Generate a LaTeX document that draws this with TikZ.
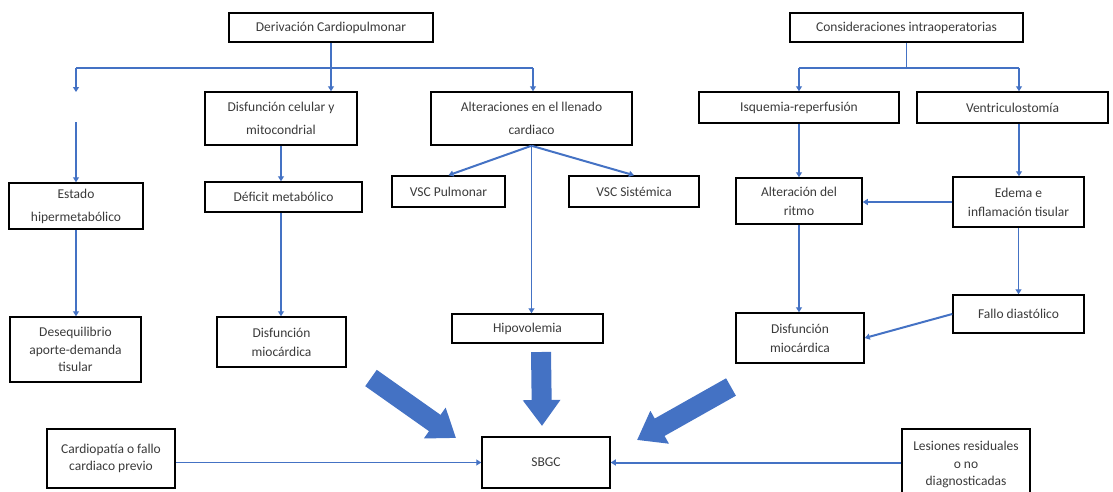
\documentclass[tikz,border=0pt]{standalone}
\usepackage{fontspec}
\setmainfont{Carlito}
\usetikzlibrary{arrows.meta,calc}
\definecolor{lineblue}{HTML}{4472C4}
\definecolor{arrowblue}{HTML}{4472C4}
\definecolor{txt}{HTML}{3A3A3A}
\begin{document}
\begin{tikzpicture}[x=1pt,y=-1pt,
  box/.style={draw=black, line width=1.5pt, inner sep=0pt, align=center, text=txt,
    font=\fontsize{13.5}{19}\selectfont},
  tallbox/.style={box, font=\fontsize{13.5}{23}\selectfont},
  tightbox/.style={box, font=\fontsize{13.5}{17.5}\selectfont},
  conn/.style={draw=lineblue, line width=1.2pt, -{Triangle[width=6pt,length=5pt]}},
  thickconn/.style={conn, line width=2pt},
  plain/.style={draw=lineblue, line width=1.2pt},
  thickplain/.style={plain, line width=2pt},
  bigarrow/.style={draw=arrowblue, line width=20pt, -{Triangle[width=36pt,length=26pt]}}
]
\useasboundingbox (0,0) rectangle (1113,491);

% top row
\node[box, minimum width=204pt, minimum height=29pt] (der) at (331,27.5) {Derivación Cardiopulmonar};
\node[box, minimum width=233pt, minimum height=29pt] (con) at (906.5,27.5) {Consideraciones intraoperatorias};

% second row
\node[tallbox, minimum width=152pt, minimum height=53pt] (dcm) at (281,118.5) {Disfunción celular y\\mitocondrial};
\node[tallbox, minimum width=201pt, minimum height=53pt] (alt) at (531.5,118.5) {Alteraciones en el llenado\\cardiaco};
\node[box, minimum width=200pt, minimum height=31pt] (isq) at (799,107.5) {Isquemia-reperfusión};
\node[box, minimum width=191pt, minimum height=31pt] (ven) at (1012.5,107.5) {Ventriculostomía};

% third row
\node[tallbox, minimum width=134pt, minimum height=46pt] (est) at (76,206) {Estado\\hipermetabólico};
\node[box, minimum width=157pt, minimum height=30pt] (def) at (283.5,197) {Déficit metabólico};
\node[box, minimum width=113pt, minimum height=31pt] (vscp) at (448.5,191.5) {VSC Pulmonar};
\node[box, minimum width=130pt, minimum height=31pt] (vscs) at (634,191.5) {VSC Sistémica};
\node[box, minimum width=126pt, minimum height=46pt] (rit) at (799,201) {Alteración del\\ritmo};
\node[box, minimum width=131pt, minimum height=50pt] (ede) at (1018.5,202) {Edema e\\inflamación tisular};

% fourth row
\node[tightbox, minimum width=131pt, minimum height=65pt] (des) at (75.5,349.5) {Desequilibrio\\aporte-demanda\\tisular};
\node[box, minimum width=129pt, minimum height=50pt] (dml) at (281.5,342) {Disfunción\\miocárdica};
\node[box, minimum width=151pt, minimum height=29pt] (hip) at (527.5,328.5) {Hipovolemia};
\node[box, minimum width=128pt, minimum height=50pt] (dmr) at (800,338) {Disfunción\\miocárdica};
\node[box, minimum width=131pt, minimum height=38pt] (fal) at (1018.5,314) {Fallo diastólico};

% bottom row
\node[tightbox, minimum width=128pt, minimum height=59pt] (car) at (111,458.5) {Cardiopatía o fallo\\cardiaco previo};
\node[box, minimum width=128pt, minimum height=51pt] (sbg) at (546,462.5) {SBGC};
\node[tightbox, minimum width=128pt, minimum height=71pt] (les) at (966,464.5) {Lesiones residuales\\o no\\diagnosticadas};

% junctions
\coordinate (hl) at (76,68);
\coordinate (hr) at (533,68);
\coordinate (gapa) at (76,92);
\coordinate (gapb) at (76,122);
\coordinate (cl) at (799,68);
\coordinate (cr) at (1019,68);

% Derivación branches
\draw[thickplain] (der.south) -- (der.south |- hl);
\draw[plain] (hl) -- (hr);
\draw[conn] (hl) -- (gapa);
\draw[thickconn] (gapb) -- (est.north);
\draw[conn] (der.south |- hl) -- (der.south |- dcm.north);
\draw[conn] (hr) -- (hr |- alt.north);
\draw[thickconn] (dcm.south) -- (dcm.south |- def.north);
\draw[thickconn] (def.south -| dcm.south) -- (dcm.south |- dml.north);
\draw[thickconn] (est.south) -- (est.south |- des.north);
\draw[thickconn] (alt.south) -- (vscp.north);
\draw[thickconn] (alt.south) -- (vscs.north);
\draw[conn, line width=1.6pt] (alt.south) -- (alt.south |- hip.north);

% Consideraciones branches
\draw[plain] (con.south) -- (con.south |- cl);
\draw[plain] (cl) -- (cr);
\draw[conn] (cl) -- (isq.north);
\draw[conn] (cr) -- (cr |- ven.north);
\draw[conn] (isq.south) -- (rit.north);
\draw[conn] (ven.south -| cr) -- (cr |- ede.north);
\draw[conn] (ede.west) -- (ede.west -| rit.east);
\draw[conn] (rit.south) -- (rit.south |- dmr.north);
\draw[conn] (ede.south) -- (ede.south |- fal.north);
\draw[thickconn] (fal.west) -- (dmr.east);

% bottom connectors
\draw[conn] (car.east |- sbg.west) -- (sbg.west);
\draw[thickconn] (les.west |- sbg.east) -- (sbg.east);

% big block arrows
\coordinate (b1t) at (371,378);
\coordinate (b1h) at (456,438);
\coordinate (b2t) at (541,352);
\coordinate (b2h) at (542,426);
\coordinate (b3t) at (731,387);
\coordinate (b3h) at (637,440);
\draw[bigarrow] (b1t) -- (b1h);
\draw[bigarrow] (b2t) -- (b2h);
\draw[bigarrow] (b3t) -- (b3h);
\end{tikzpicture}
\end{document}
